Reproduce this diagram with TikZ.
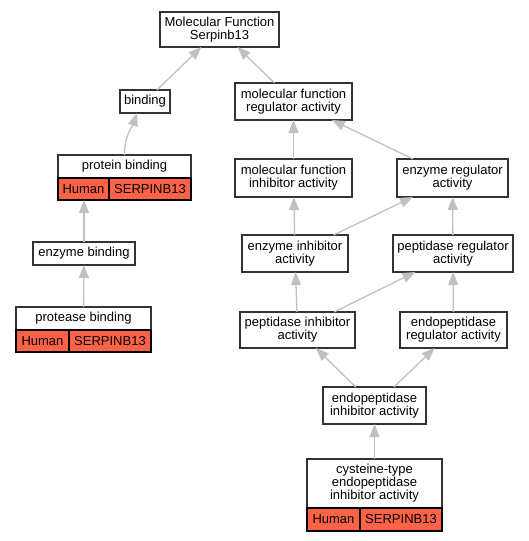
\documentclass[tikz,border=0pt]{standalone}
\usepackage{fontspec}
\setmainfont{Liberation Sans}
\usetikzlibrary{arrows.meta}
\definecolor{termred}{RGB}{255,99,71}
\definecolor{edgegray}{RGB}{192,192,192}
\definecolor{boxline}{RGB}{51,51,51}

\begin{document}
\begin{tikzpicture}[x=1pt,y=-1pt,
    term/.style={draw=boxline,line width=1.4pt,fill=white,align=center,inner sep=0pt,outer sep=0pt,font=\fontsize{13}{13}\selectfont},
    cell/.style={draw=black,line width=1.2pt,fill=termred,inner sep=0pt,outer sep=0pt,minimum height=22pt,anchor=north west,font=\fontsize{13}{13}\selectfont},
    isa/.style={draw=edgegray,line width=1.3pt,-{Triangle[length=13pt,width=10pt]}}]
  \useasboundingbox (0,0) rectangle (529,541);
  % left branch
  \node[term,minimum width=119pt,minimum height=35pt] (mf) at (219.5,29.5) {Molecular Function\\Serpinb13};
  \node[term,minimum width=50pt,minimum height=23pt] (bind) at (145,101.5) {binding};
  \node[term,minimum width=133pt,minimum height=23pt] (pb) at (124.5,166.5) {protein binding};
  \node[cell,minimum width=51pt] (pbh) at (pb.south west) {Human};
  \node[cell,minimum width=82pt] (pbs) at (pbh.north east) {SERPINB13};
  \node[term,minimum width=102pt,minimum height=23pt] (eb) at (84,253.5) {enzyme binding};
  \node[term,minimum width=135pt,minimum height=23pt] (prb) at (83.5,318.5) {protease binding};
  \node[cell,minimum width=53pt] (prbh) at (prb.south west) {Human};
  \node[cell,minimum width=82pt] (prbs) at (prbh.north east) {SERPINB13};
  % right branch
  \node[term,minimum width=117pt,minimum height=37pt] (mfr) at (293.5,101.5) {molecular function\\regulator activity};
  \node[term,minimum width=117pt,minimum height=38pt] (mfi) at (293.5,178) {molecular function\\inhibitor activity};
  \node[term,minimum width=111pt,minimum height=38pt] (er) at (452.5,178) {enzyme regulator\\activity};
  \node[term,minimum width=106pt,minimum height=37pt] (ei) at (295,253.5) {enzyme inhibitor\\activity};
  \node[term,minimum width=120pt,minimum height=37pt] (pr) at (453,253.5) {peptidase regulator\\activity};
  \node[term,minimum width=115pt,minimum height=36pt] (pi) at (297.5,330) {peptidase inhibitor\\activity};
  \node[term,minimum width=107pt,minimum height=36pt] (endr) at (453.5,330) {endopeptidase\\regulator activity};
  \node[term,minimum width=103pt,minimum height=37pt] (endi) at (374.5,405.5) {endopeptidase\\inhibitor activity};
  \node[term,minimum width=135pt,minimum height=49pt] (cys) at (374.5,483.5) {cysteine-type\\endopeptidase\\inhibitor activity};
  \node[cell,minimum width=53pt,minimum height=23pt] (cysh) at (cys.south west) {Human};
  \node[cell,minimum width=82pt,minimum height=23pt] (cyss) at (cysh.north east) {SERPINB13};
  % is-a edges
  \draw[isa] (bind) -- (mf);
  \draw[isa] (mfr) -- (mf);
  \draw[isa] (pb.north) .. controls +(0,-20) and +(-4,12) .. ([xshift=-8pt]bind.south);
  \draw[isa] (eb.north) -- (eb.north |- pbh.south);
  \draw[isa] (prb) -- (eb);
  \draw[isa] (mfi) -- (mfr);
  \draw[isa] (er) -- (mfr);
  \draw[isa] (ei) -- (mfi);
  \draw[isa] (ei) -- (er);
  \draw[isa] (pr) -- (er);
  \draw[isa] (pi) -- (ei);
  \draw[isa] (pi) -- (pr);
  \draw[isa] (endr) -- (pr);
  \draw[isa] (endi) -- (pi);
  \draw[isa] (endi) -- (endr);
  \draw[isa] (cys) -- (endi);
\end{tikzpicture}
\end{document}
